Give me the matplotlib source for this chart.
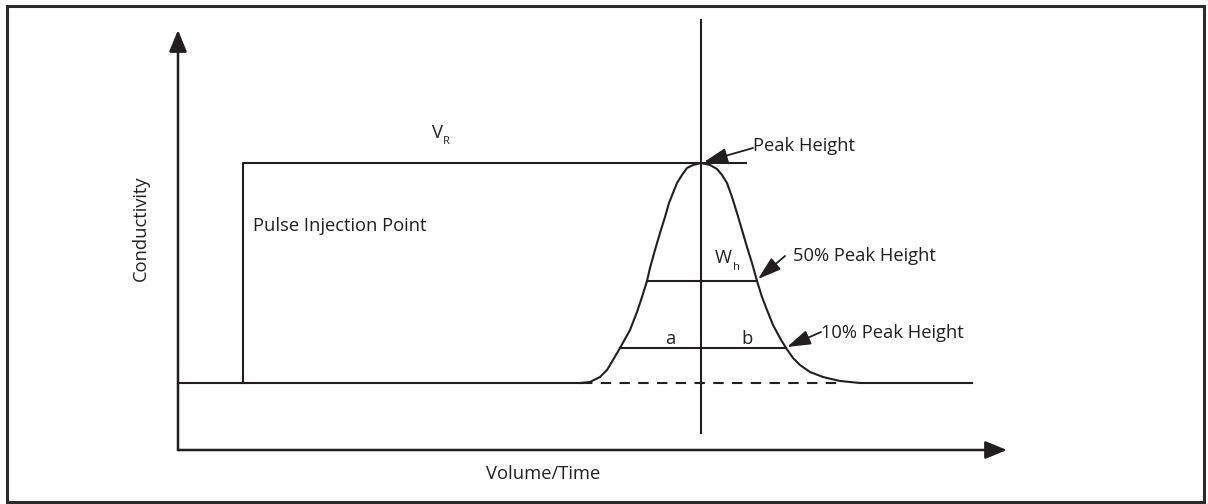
import matplotlib
matplotlib.use('Agg')
import matplotlib.pyplot as plt
from matplotlib.patches import Rectangle

# all positions are in diagram units: origin where the two axes meet,
# x to the right (volume/time), y upward (conductivity)
ink = '#231f20'

# axes
x_axis_end = 829
y_axis_top = 420

# baseline and injection
baseline = 67
baseline_end = 794
dash_start, dash_end = 404, 659
injection_x = 65

# peak
peak_x = [402, 412, 422, 429, 435, 442, 452, 459, 464, 469, 472, 477, 482, 487, 491, 495,
          499, 504, 509, 515, 523, 532, 539, 544, 549, 554, 559, 564, 569, 574, 579, 584,
          589, 595, 602, 608, 615, 622, 632, 645, 662, 682, 702]
peak_y = [67, 68, 73, 80, 90, 102, 120, 138, 153, 169, 182, 200, 217, 233, 247, 257,
          267, 275, 282, 285, 287, 285, 281, 275, 267, 253, 237, 220, 203, 187, 169, 153,
          140, 125, 112, 102, 92, 85, 78, 73, 69, 67, 67]
peak_top_x, peak_top_y = 523, 287
vr_line_end = 568
center_line = (17, 430)

# width lines
half_y, half_left, half_right = 169, 469, 579
tenth_y, tenth_left, tenth_right = 102, 442, 608


def main():
    fig = plt.figure(figsize=(12.08, 5.04), dpi=100)
    fig.patches.append(Rectangle((6.5 / 1208, 2.5 / 504), 1197 / 1208, 495.5 / 504,
                                 transform=fig.transFigure, fill=False,
                                 edgecolor='#2b2b2b', lw=2.2))
    ax = fig.add_axes([0, 0, 1, 1])
    ax.set_xlim(-178, 1030)
    ax.set_ylim(-54, 450)
    ax.axis('off')

    plt.rcParams['font.family'] = ['Open Sans', 'DejaVu Sans']
    fs = 13.2
    lw = 1.5

    # axis arrows
    arrow = dict(arrowstyle='-|>,head_length=1.1,head_width=0.45', color=ink, lw=1.8,
                 shrinkA=0, shrinkB=0, mutation_scale=12)
    ax.annotate('', xy=(0, y_axis_top), xytext=(0, 0), arrowprops=arrow)
    ax.annotate('', xy=(x_axis_end, 0), xytext=(0, 0), arrowprops=arrow)

    # baseline, injection marker, retention line
    ax.plot([0, dash_start], [baseline, baseline], color=ink, lw=lw)
    ax.plot([dash_start, dash_end], [baseline, baseline], color=ink, lw=lw, ls=(0, (5, 4)))
    ax.plot([peak_x[-1], baseline_end], [baseline, baseline], color=ink, lw=lw)
    ax.plot([injection_x, injection_x, vr_line_end], [baseline, peak_top_y, peak_top_y],
            color=ink, lw=lw)
    ax.plot([peak_top_x, peak_top_x], center_line, color=ink, lw=lw)

    # the peak
    ax.plot(peak_x, peak_y, color=ink, lw=lw, solid_joinstyle='round')
    ax.plot([half_left, half_right], [half_y, half_y], color=ink, lw=lw)
    ax.plot([tenth_left, tenth_right], [tenth_y, tenth_y], color=ink, lw=lw)

    # pointers
    pointer = dict(arrowstyle='-|>,head_length=1.2,head_width=0.38', color=ink, lw=1.3,
                   shrinkA=0, shrinkB=0, mutation_scale=12)
    ax.annotate('', xy=(peak_top_x + 3, peak_top_y + 1), xytext=(575, 302), arrowprops=pointer)
    ax.annotate('', xy=(half_right + 1, half_y + 2), xytext=(607, 194), arrowprops=pointer)
    ax.annotate('', xy=(tenth_right + 1, tenth_y + 1), xytext=(643, 118), arrowprops=pointer)

    ax.text(575, 304, 'Peak Height', fontsize=fs, va='center', ha='left', color=ink)
    ax.text(615, 194, '50% Peak Height', fontsize=fs, va='center', ha='left', color=ink)
    ax.text(643, 117, '10% Peak Height', fontsize=fs, va='center', ha='left', color=ink)

    ax.text(254, 317, 'V', fontsize=fs, ha='left', va='center', color=ink)
    ax.text(265, 309, 'R', fontsize=8, ha='left', va='center', color=ink)
    ax.text(537, 192, 'W', fontsize=fs, ha='left', va='center', color=ink)
    ax.text(555, 183, 'h', fontsize=8, ha='left', va='center', color=ink)
    ax.text(492, 111, 'a', fontsize=fs, ha='center', va='center', color=ink)
    ax.text(569, 111, 'b', fontsize=fs, ha='center', va='center', color=ink)
    ax.text(75, 224, 'Pulse Injection Point', fontsize=fs, ha='left', va='center', color=ink)
    ax.text(-37, 222, 'Conductivity', fontsize=fs, rotation=90, ha='center', va='center',
            color=ink)
    ax.text(365, -24, 'Volume/Time', fontsize=fs, ha='center', va='center', color=ink)

    fig.savefig('out.png', dpi=100)
    plt.close(fig)


if __name__ == '__main__':
    main()
